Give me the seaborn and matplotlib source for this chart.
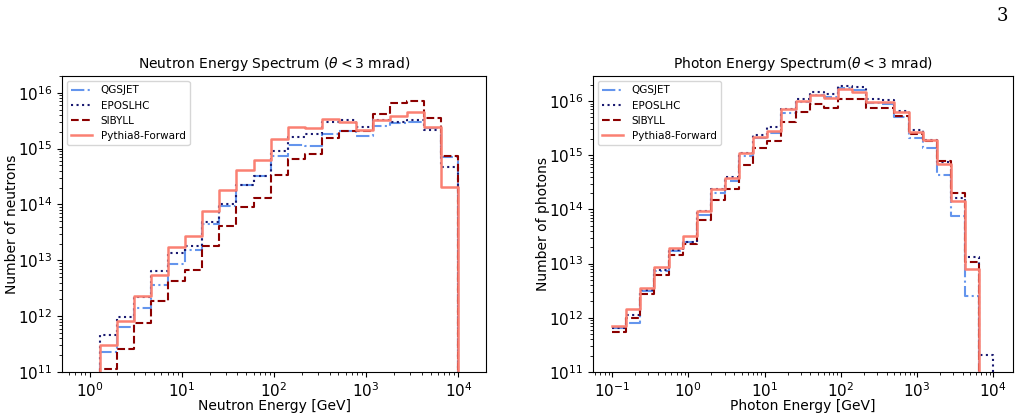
import numpy as np
import pandas as pd
import seaborn as sns
import matplotlib
matplotlib.use("Agg")
import matplotlib.pyplot as plt

# log10 bin edges shared by both spectra: 27 bins from 10^-1 to 10^4 GeV
log_edges = np.linspace(-1, 4, 28)

# neutron spectrum, bins 6..26 (1.3 GeV to 10 TeV)
neutron_first_bin = 6
neutron_qgsjet = [2.27e11, 6.3e11, 1.42e12, 3.65e12, 8.7e12, 1.51e13, 4.4e13, 9.4e13, 2.2e14, 3.2e14,
                  7.45e14, 1.17e15, 1.12e15, 1.81e15, 2.1e15, 1.69e15, 2.55e15, 2.84e15, 3.0e15, 2.3e15, 7.05e14]
neutron_eposlhc = [4.6e11, 9.5e11, 2.17e12, 6.4e12, 1.37e13, 1.8e13, 4.8e13, 1.04e14, 2.27e14, 3.27e14,
                   8.9e14, 1.64e15, 1.84e15, 3.04e15, 3.26e15, 2.4e15, 3.26e15, 3.0e15, 3.2e15, 2.2e15, 4.6e14]
neutron_sibyll = [1.15e11, 2.6e11, 7.6e11, 1.84e12, 4.2e12, 6.65e12, 1.8e13, 4.1e13, 9.1e13, 1.28e14,
                  3.4e14, 6.6e14, 8.1e14, 1.54e15, 2.1e15, 2.1e15, 4.17e15, 6.46e15, 7.1e15, 3.6e15, 7.45e14]
neutron_pythia = [3.07e11, 8.3e11, 2.32e12, 5.4e12, 1.76e13, 2.72e13, 7.5e13, 1.8e14, 4.07e14, 6.15e14,
                  1.5e15, 2.48e15, 2.35e15, 3.4e15, 3.04e15, 2.2e15, 3.2e15, 3.84e15, 4.6e15, 2.41e15, 2.03e14]

# photon spectrum, bins 0..26 (0.1 GeV to 10 TeV)
photon_first_bin = 0
photon_qgsjet = [6.6e11, 8.0e11, 3.1e12, 7.4e12, 1.7e13, 2.5e13, 7.9e13, 2.05e14, 3.3e14, 9.7e14,
                 2.04e15, 2.6e15, 5.9e15, 9.5e15, 1.3e16, 1.2e16, 1.75e16, 1.6e16, 9.1e15, 8.8e15,
                 5.0e15, 2.1e15, 1.34e15, 4.3e14, 7.6e13, 2.5e12, 0]
photon_eposlhc = [6.6e11, 1.15e12, 3.2e12, 7.6e12, 1.8e13, 2.5e13, 9.5e13, 2.4e14, 3.9e14, 1.12e15,
                  2.35e15, 3.3e15, 7.1e15, 1.07e16, 1.48e16, 1.35e16, 1.9e16, 1.8e16, 1.07e16, 1.05e16,
                  6.6e15, 2.9e15, 1.95e15, 7.6e14, 1.66e14, 1.35e13, 2.1e11]
photon_sibyll = [5.5e11, 9.8e11, 2.7e12, 6.2e12, 1.44e13, 2.3e13, 6.3e13, 1.5e14, 2.4e14, 6.5e14,
                 1.37e15, 1.8e15, 4.1e15, 6.2e15, 8.7e15, 7.6e15, 1.09e16, 1.09e16, 7.3e15, 7.6e15,
                 5.3e15, 2.5e15, 1.8e15, 7.8e14, 2.05e14, 1.07e13, 0]
photon_pythia = [7.1e11, 1.43e12, 3.6e12, 8.7e12, 1.95e13, 3.2e13, 9.5e13, 2.4e14, 3.8e14, 1.12e15,
                 2.2e15, 2.8e15, 7.0e15, 1.0e16, 1.29e16, 1.15e16, 1.66e16, 1.5e16, 9.7e15, 9.7e15,
                 6.2e15, 2.7e15, 1.9e15, 6.8e14, 1.44e14, 7.9e12, 0]

models = ["QGSJET", "EPOSLHC", "SIBYLL", "Pythia8-Forward"]
styles = {
    "QGSJET": dict(color="cornflowerblue", linestyle="-.", linewidth=1.5),
    "EPOSLHC": dict(color="midnightblue", linestyle=":", linewidth=1.5),
    "SIBYLL": dict(color="darkred", linestyle="--", linewidth=1.5),
    "Pythia8-Forward": dict(color="salmon", linestyle="-", linewidth=1.8),
}

plt.rcParams["font.size"] = 10
plt.rcParams["xtick.labelsize"] = 11
plt.rcParams["ytick.labelsize"] = 11

fig = plt.figure(figsize=(10.23, 4.19), dpi=100)
ax_n = fig.add_axes([0.0606, 0.1122, 0.4145, 0.7064])
ax_p = fig.add_axes([0.5797, 0.1122, 0.4106, 0.7064])

# one extra empty bin on the right so every outline drops back down
step = log_edges[1] - log_edges[0]
bins = np.append(log_edges, log_edges[-1] + step)
centers = 10 ** (bins[:-1] + step / 2)


def draw_spectrum(ax, first_bin, series):
    for name, vals in zip(models, series):
        w = np.zeros(len(centers))
        w[first_bin:first_bin + len(vals)] = vals
        df = pd.DataFrame({"energy": centers, "count": w})
        sns.histplot(
            data=df, x="energy", weights="count", bins=list(bins),
            element="step", fill=False, log_scale=True,
            label=name, ax=ax, **styles[name],
        )
    ax.set_yscale("log")
    ax.legend(loc="upper left", fontsize=7.5)


draw_spectrum(ax_n, neutron_first_bin,
              [neutron_qgsjet, neutron_eposlhc, neutron_sibyll, neutron_pythia])
ax_n.set_xlim(10 ** -0.3, 10 ** 4.3)
ax_n.set_ylim(1e11, 2e16)
ax_n.set_xlabel("Neutron Energy [GeV]", labelpad=-1)
ax_n.set_ylabel("Number of neutrons", labelpad=-1)
ax_n.set_title(r"Neutron Energy Spectrum ($\theta < 3$ mrad)", fontsize=10)

draw_spectrum(ax_p, photon_first_bin,
              [photon_qgsjet, photon_eposlhc, photon_sibyll, photon_pythia])
ax_p.set_xlim(10 ** -1.25, 10 ** 4.26)
ax_p.set_ylim(1e11, 2.9e16)
ax_p.set_xlabel("Photon Energy [GeV]", labelpad=-1)
ax_p.set_ylabel("Number of photons", labelpad=-1)
ax_p.set_title(r"Photon Energy Spectrum($\theta < 3$ mrad)", fontsize=10)

fig.text(0.985, 0.962, "3", family="DejaVu Serif", fontsize=13, ha="right", va="center")

fig.savefig("out.png", dpi=100)
